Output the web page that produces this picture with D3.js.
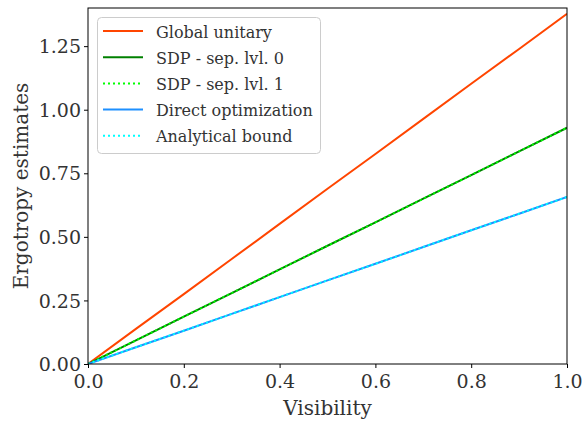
<!DOCTYPE html>
<html lang="en">
<head>
    <meta charset="UTF-8">
    <script src="https://d3js.org/d3.v7.min.js"></script>
    <title>Ergotropy estimates</title>
    <style>
        body { margin: 0; background: #fff; }
    </style>
</head>
<body>
    <script>

        // data
        var visibility = [0, 0.1, 0.2, 0.3, 0.4, 0.5, 0.6, 0.7, 0.8, 0.9, 1.0];
        var globalUnitary = [0, 0.138, 0.275, 0.413, 0.551, 0.689, 0.826, 0.964, 1.102, 1.239, 1.377];
        var sdpLvl0 = [0, 0.093, 0.186, 0.279, 0.372, 0.465, 0.557, 0.650, 0.743, 0.836, 0.929];
        var sdpLvl1 = [0, 0.093, 0.186, 0.279, 0.372, 0.465, 0.557, 0.650, 0.743, 0.836, 0.929];
        var directOpt = [0, 0.066, 0.131, 0.197, 0.263, 0.329, 0.394, 0.460, 0.526, 0.591, 0.657];
        var analytical = [0, 0.066, 0.131, 0.197, 0.263, 0.329, 0.394, 0.460, 0.526, 0.591, 0.657];

        var xTicks = [0, 0.2, 0.4, 0.6, 0.8, 1.0];
        var yTicks = [0, 0.25, 0.5, 0.75, 1.0, 1.25];

        var series = [
            {name: "Global unitary", values: globalUnitary, color: "#ff4500", dash: null},
            {name: "SDP - sep. lvl. 0", values: sdpLvl0, color: "#008000", dash: null},
            {name: "SDP - sep. lvl. 1", values: sdpLvl1, color: "#00ff00", dash: "2,3"},
            {name: "Direct optimization", values: directOpt, color: "#1e90ff", dash: null},
            {name: "Analytical bound", values: analytical, color: "#00ffff", dash: "2,3"}
        ];

        var FONT = "'DejaVu Serif', 'Liberation Serif', serif";
        var W = 587, H = 422;
        var margin = {left: 88, right: 20, top: 8, bottom: 58};

        var svg = d3.select("body").append("svg").attr("width", W).attr("height", H);

        var x = d3.scaleLinear().domain([0, 1]).range([margin.left, W - margin.right]);
        var y = d3.scaleLinear().domain([0, 1.4]).range([H - margin.bottom, margin.top]);

        var line = d3.line()
            .x(function(d, i){ return x(visibility[i]); })
            .y(function(d){ return y(d); });

        var plot = svg.append("g");
        plot.append("clipPath").attr("id", "clip").append("rect")
            .attr("x", x(0)).attr("y", y(1.4)).attr("width", x(1) - x(0)).attr("height", y(0) - y(1.4));

        plot.selectAll("path.series").data(series).join("path")
            .attr("class", "series")
            .attr("clip-path", "url(#clip)")
            .attr("d", function(d){ return line(d.values); })
            .attr("fill", "none")
            .attr("stroke", function(d){ return d.color; })
            .attr("stroke-width", 2)
            .attr("stroke-dasharray", function(d){ return d.dash; });

        // axes
        var xAxis = svg.append("g").attr("transform", "translate(0," + y(0) + ")")
            .call(d3.axisBottom(x).tickValues(xTicks).tickFormat(d3.format(".1f")).tickSizeInner(4).tickSizeOuter(0).tickPadding(3));
        var yAxis = svg.append("g").attr("transform", "translate(" + x(0) + ",0)")
            .call(d3.axisLeft(y).tickValues(yTicks).tickFormat(d3.format(".2f")).tickSizeInner(4).tickSizeOuter(0).tickPadding(3));

        [xAxis, yAxis].forEach(function(a){
            a.attr("font-family", null).attr("font-size", null);
            a.select(".domain").remove();
            a.selectAll(".tick line").attr("stroke", "#000").attr("stroke-width", 1);
            a.selectAll(".tick text").style("font-family", FONT).style("font-size", "19px").attr("fill", "#333");
        });
        xAxis.selectAll(".tick text").attr("dy", "0.9em");
        yAxis.selectAll(".tick text").attr("dy", "0.35em");

        // frame
        svg.append("rect")
            .attr("x", x(0)).attr("y", y(1.4))
            .attr("width", x(1) - x(0)).attr("height", y(0) - y(1.4))
            .attr("fill", "none").attr("stroke", "#000").attr("stroke-width", 1);

        // axis labels
        svg.append("text")
            .attr("x", (x(0) + x(1)) / 2).attr("y", 415)
            .attr("text-anchor", "middle")
            .style("font-family", FONT).style("font-size", "20px").attr("fill", "#333")
            .text("Visibility");
        svg.append("text")
            .attr("transform", "translate(28," + (y(0) + y(1.4)) / 2 + ") rotate(-90)")
            .attr("text-anchor", "middle")
            .style("font-family", FONT).style("font-size", "20px").attr("fill", "#333")
            .text("Ergotropy estimates");

        // legend
        var legend = svg.append("g");
        legend.append("rect")
            .attr("x", 97.5).attr("y", 17.5).attr("width", 223).attr("height", 136)
            .attr("rx", 4).attr("fill", "#fff").attr("fill-opacity", 0.8)
            .attr("stroke", "#ccc").attr("stroke-width", 1);
        var rows = legend.selectAll("g.row").data(series).join("g")
            .attr("class", "row")
            .attr("transform", function(d, i){ return "translate(0," + (31 + i * 26.2) + ")"; });
        rows.append("line")
            .attr("x1", 103).attr("x2", 143)
            .attr("stroke", function(d){ return d.color; })
            .attr("stroke-width", 2)
            .attr("stroke-dasharray", function(d){ return d.dash; });
        rows.append("text")
            .attr("x", 156).attr("y", 6.5)
            .style("font-family", FONT).style("font-size", "16px").attr("fill", "#333")
            .text(function(d){ return d.name; });

    </script>
</body>
</html>
